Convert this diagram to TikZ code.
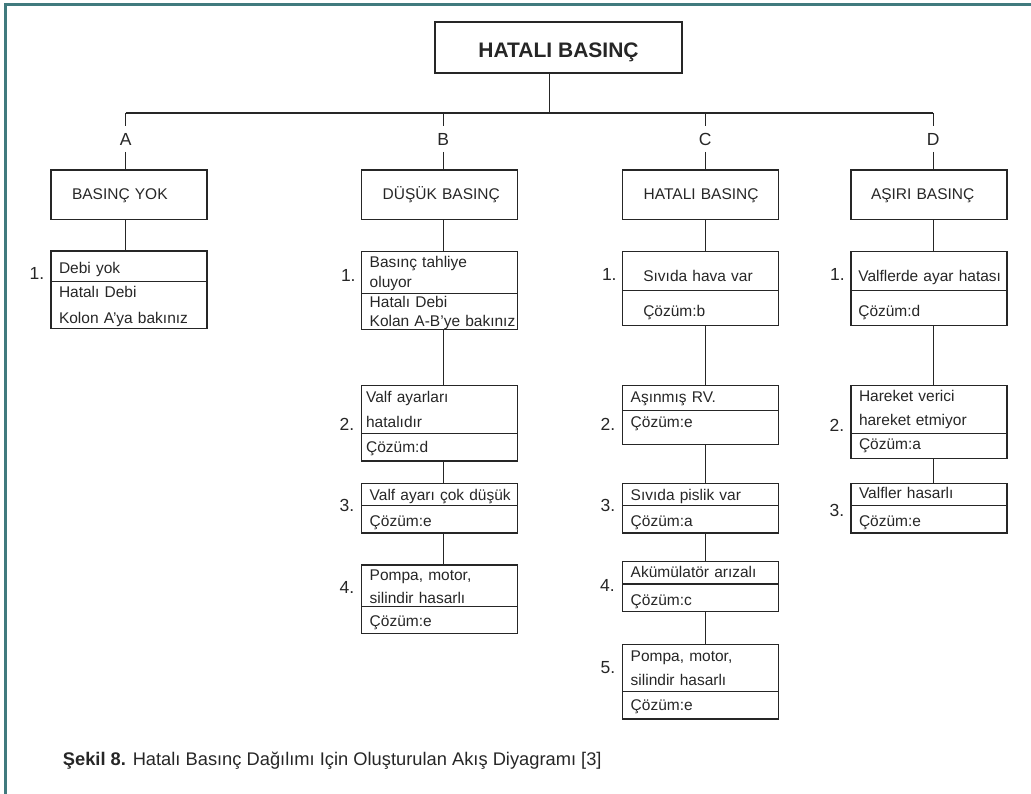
\documentclass[tikz,border=0pt]{standalone}
\usepackage{fontspec}
\setmainfont{Liberation Sans}
\usepackage{tikz}
\usetikzlibrary{positioning}
\definecolor{frameteal}{RGB}{64,122,126}
\definecolor{ink}{RGB}{38,38,38}

\begin{document}
\begin{tikzpicture}[
		x=1pt, y=-1pt,
		every node/.style={text=ink},
		link/.style={draw=ink, line width=1.2pt},
		frame/.style={draw=frameteal, line width=3.5pt},
		pad/.style={execute at begin node={\leftskip=#1\relax}},
		bl/.style={/utils/exec={\pgfmathsetmacro\blH{max(2*(#1),0)}\pgfmathsetmacro\blD{max(-2*(#1),0)}},
			text height=\blH pt, text depth=\blD pt},
		part/.style={draw=ink, line width=1.2pt, rectangle, outer sep=0pt,
			minimum width=156pt, text width=156pt, inner xsep=0pt, inner ysep=0pt,
			align=left, font=\fontsize{15.5}{19}\selectfont, pad=8pt},
		head/.style={part, anchor=north west, minimum height=49.3pt, pad=21pt, bl=5.35},
		title/.style={draw=ink, line width=1.2pt, minimum width=247pt, minimum height=51pt,
			font=\bfseries\fontsize{21}{25}\selectfont, bl=9.8},
		lbl/.style={font=\fontsize{17.5}{20}\selectfont, inner sep=0pt, minimum height=25pt},
		num/.style={font=\fontsize{17.5}{20}\selectfont, inner sep=0pt},
		caption/.style={font=\fontsize{18.3}{21}\selectfont, inner sep=0pt, anchor=base west}
		]
		\useasboundingbox (0,0) rectangle (1031,794);
		% рамка
		\draw[frame] (1031,4.5) -- (5.3,4.5) -- (5.3,794);
		
		% корень и шина
		\node[title] (root) at (558.5,47.5) {HATALI BASINÇ};
		\coordinate (hub) at (549.3,113);
		
		% метки ветвей
		\node[lbl] (lA) at (125.7,139.2) {A};
		\node[lbl] (lB) at (443.3,139.2) {B};
		\node[lbl] (lC) at (705.3,139.2) {C};
		\node[lbl] (lD) at (933.3,139.2) {D};
		
		% заголовки столбцов
		\node[head] (hA) at (51,170) {BASINÇ YOK};
		\node[head] (hB) at (361.7,170) {DÜŞÜK BASINÇ};
		\node[head] (hC) at (622.7,170) {HATALI BASINÇ};
		\node[head, pad=20pt] (hD) at (851,170) {AŞIRI BASINÇ};
		
		% столбец A
		\node[part, anchor=north west, minimum height=30.7pt, bl=7.65] (A1t) at (51,251) {Debi yok};
		\node[part, below=0pt of A1t, minimum height=46.6pt, bl=-7] (A1b) {Hatalı Debi\\[7pt]Kolon A’ya bakınız};
		
		% столбец B
		\node[part, anchor=north west, minimum height=41.6pt, bl=-4.5] (B1t) at (361.7,251.7) {Basınç tahliye\\[1pt]oluyor};
		\node[part, below=0pt of B1t, minimum height=36pt, bl=-3.3] (B1b) {Hatalı Debi\\Kolan A-B’ye bakınız};
		\node[part, anchor=north west, minimum height=47.6pt, bl=-6.8, pad=4.4pt] (B2t) at (361.7,385.7) {Valf ayarları\\[5.6pt]hatalıdır};
		\node[part, below=0pt of B2t, minimum height=27.7pt, bl=5.55, pad=4.4pt] (B2b) {Çözüm:d};
		\node[part, anchor=north west, minimum height=22pt, bl=6] (B3t) at (361.7,483.7) {Valf ayarı çok düşük};
		\node[part, below=0pt of B3t, minimum height=27.3pt, bl=7.35] (B3b) {Çözüm:e};
		\node[part, anchor=north west, minimum height=41.7pt, bl=-5.15] (B4t) at (361.7,565) {Pompa, motor,\\[3.6pt]silindir hasarlı};
		\node[part, below=0pt of B4t, minimum height=26.6pt, bl=6.7] (B4b) {Çözüm:e};
		
		% столбец C
		\node[part, anchor=north west, minimum height=38.6pt, bl=10.7, pad=20.6pt] (C1t) at (622.7,251.7) {Sıvıda hava var};
		\node[part, below=0pt of C1t, minimum height=35.4pt, bl=8.7, pad=20.6pt] (C1b) {Çözüm:b};
		\node[part, anchor=north west, minimum height=25pt, bl=4.5] (C2t) at (622.7,385.7) {Aşınmış RV.};
		\node[part, below=0pt of C2t, minimum height=33.6pt, bl=-0.2] (C2b) {Çözüm:e};
		\node[part, anchor=north west, minimum height=22pt, bl=6] (C3t) at (622.7,483.7) {Sıvıda pislik var};
		\node[part, below=0pt of C3t, minimum height=27.3pt, bl=7.35] (C3b) {Çözüm:a};
		\node[part, anchor=north west, minimum height=22.3pt, bl=4.85] (C4t) at (622.7,561.7) {Akümülatör arızalı};
		\node[part, below=0pt of C4t, minimum height=27.3pt, bl=8] (C4b) {Çözüm:c};
		\node[part, anchor=north west, minimum height=47pt, bl=-6.1] (C5t) at (622.7,644.3) {Pompa, motor,\\[4.3pt]silindir hasarlı};
		\node[part, below=0pt of C5t, minimum height=27.7pt, bl=5.55] (C5b) {Çözüm:e};
		
		% столбец D
		\node[part, anchor=north west, minimum height=38.6pt, bl=10.7, pad=7.3pt] (D1t) at (851,251.7) {Valflerde ayar hatası};
		\node[part, below=0pt of D1t, minimum height=35.4pt, bl=8.7, pad=7.3pt] (D1b) {Çözüm:d};
		\node[part, anchor=north west, minimum height=48.4pt, bl=-7.8] (D2t) at (851,385.3) {Hareket verici\\[4.3pt]hareket etmiyor};
		\node[part, below=0pt of D2t, minimum height=24.6pt, bl=3] (D2b) {Çözüm:a};
		\node[part, anchor=north west, minimum height=22pt, bl=4] (D3t) at (851,483.3) {Valfler hasarlı};
		\node[part, below=0pt of D3t, minimum height=27.7pt, bl=6.85] (D3b) {Çözüm:e};
		
		% номера шагов
		\node[num] (nA1) at (37,273.5) {1.};
		\node[num] (nB1) at (348.3,275) {1.};
		\node[num] (nB2) at (347,424) {2.};
		\node[num] (nB3) at (347,505.7) {3.};
		\node[num] (nB4) at (347,587.3) {4.};
		\node[num] (nC1) at (609.3,274) {1.};
		\node[num] (nC2) at (608,424) {2.};
		\node[num] (nC3) at (608,505.7) {3.};
		\node[num] (nC4) at (607.5,585) {4.};
		\node[num] (nC5) at (608,667.7) {5.};
		\node[num] (nD1) at (837.5,274) {1.};
		\node[num] (nD2) at (837,425) {2.};
		\node[num] (nD3) at (837,510) {3.};
		
		% подпись
		\node[caption] (cap) at (62.7,765.7) {\textbf{Şekil 8.} Hatalı Basınç Dağılımı Için Oluşturulan Akış Diyagramı [3]};
		
		% линии дерева
		\draw[link] (hub |- root.south) -- (hub);
		\draw[link] (lA |- hub) -- (lD |- hub);
		\draw[link] (lA |- hub) -- (lA);
		\draw[link] (lB |- hub) -- (lB);
		\draw[link] (lC |- hub) -- (lC);
		\draw[link] (lD |- hub) -- (lD);
		\draw[link] (lA) -- (lA |- hA.north);
		\draw[link] (lB) -- (lB |- hB.north);
		\draw[link] (lC) -- (lC |- hC.north);
		\draw[link] (lD) -- (lD |- hD.north);
		
		% связи внутри столбцов
		\draw[link] (lA |- hA.south) -- (lA |- A1t.north);
		\draw[link] (lB |- hB.south) -- (lB |- B1t.north);
		\draw[link] (lB |- B1b.south) -- (lB |- B2t.north);
		\draw[link] (lB |- B2b.south) -- (lB |- B3t.north);
		\draw[link] (lB |- B3b.south) -- (lB |- B4t.north);
		\draw[link] (lC |- hC.south) -- (lC |- C1t.north);
		\draw[link] (lC |- C1b.south) -- (lC |- C2t.north);
		\draw[link] (lC |- C2b.south) -- (lC |- C3t.north);
		\draw[link] (lC |- C3b.south) -- (lC |- C4t.north);
		\draw[link] (lC |- C4b.south) -- (lC |- C5t.north);
		\draw[link] (lD |- hD.south) -- (lD |- D1t.north);
		\draw[link] (lD |- D1b.south) -- (lD |- D2t.north);
		\draw[link] (lD |- D2b.south) -- (lD |- D3t.north);
	\end{tikzpicture}
\end{document}
